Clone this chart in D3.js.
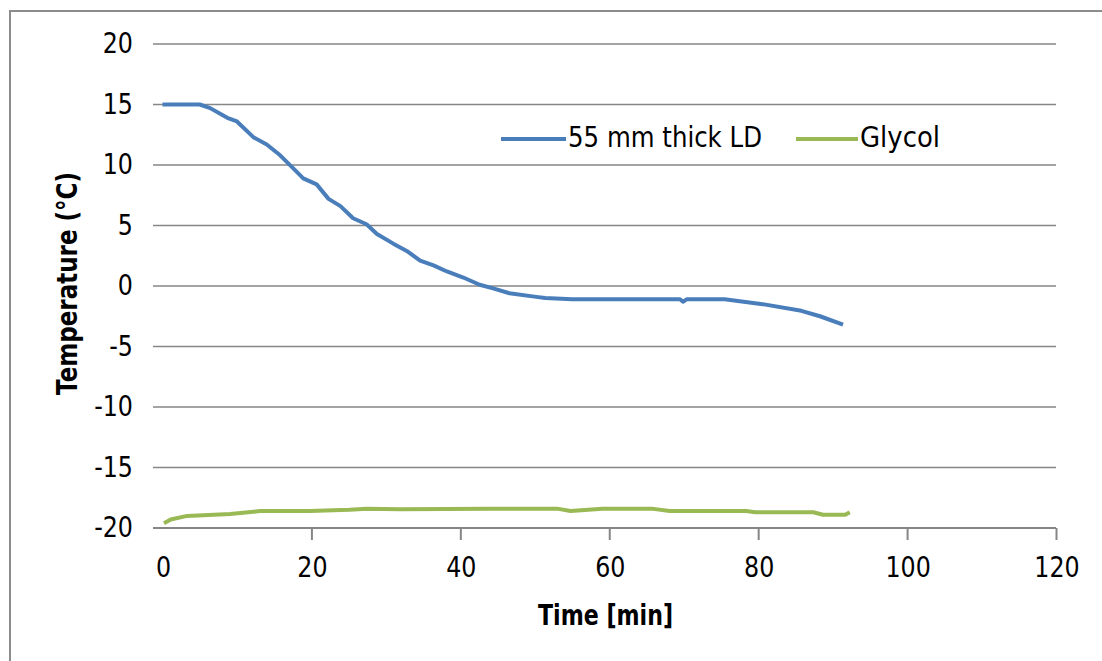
<!DOCTYPE html>
<html>
<head>
<meta charset="utf-8">
<script src="https://cdn.jsdelivr.net/npm/d3@7/dist/d3.min.js"></script>
<style>
  html, body { margin: 0; padding: 0; background: #ffffff; }
  svg { display: block; }
  text { font-family: "DejaVu Sans", sans-serif; fill: #000; }
</style>
</head>
<body>
<svg id="chart" width="1102" height="661"></svg>
<script>
// Core temperature of a 55 mm thick sample and the glycol bath over time
const ldTime = [0, 5, 6.4, 8.7, 10, 12.2, 14, 15.8, 17.6, 18.9, 20.7, 22.3, 23.9, 25.6, 27.4, 28.8, 31, 32.8, 34.6, 36.4, 38.2, 40.4, 42.6, 44.4, 46.6, 50.2, 51.4, 55, 62.7, 69.5, 69.9, 70.4, 75.5, 80.6, 85.8, 88.3, 91.4];
const ldTemp = [15, 15, 14.7, 13.9, 13.6, 12.3, 11.7, 10.8, 9.7, 8.9, 8.4, 7.2, 6.6, 5.6, 5.1, 4.3, 3.5, 2.9, 2.1, 1.7, 1.2, 0.7, 0.1, -0.2, -0.6, -0.9, -1.0, -1.1, -1.1, -1.1, -1.3, -1.1, -1.1, -1.5, -2.05, -2.5, -3.2];

const glycolTime = [0.2, 1.1, 3.3, 9.1, 13.1, 19.8, 25.1, 27.4, 31.9, 44, 53, 54.8, 59.1, 65.7, 68.1, 78.4, 79.6, 87.4, 88.7, 91.7, 92.3];
const glycolTemp = [-19.6, -19.3, -19.0, -18.85, -18.6, -18.6, -18.5, -18.4, -18.45, -18.4, -18.4, -18.6, -18.4, -18.4, -18.6, -18.6, -18.7, -18.7, -18.9, -18.9, -18.7];

const xTicks = [0, 20, 40, 60, 80, 100, 120];
const yTicks = [-20, -15, -10, -5, 0, 5, 10, 15, 20];

const seriesNames = ["55 mm thick LD", "Glycol"];
const seriesColors = ["#4a7ebb", "#98b954"];

const svg = d3.select("#chart");

// outer chart frame
svg.append("rect")
  .attr("x", 10).attr("y", 11)
  .attr("width", 1200).attr("height", 800)
  .attr("fill", "none").attr("stroke", "#8c8c8c").attr("stroke-width", 2);

const plotLeft = 153, plotRight = 1056;
const x = d3.scaleLinear().domain([0, 120]).range([162.5, 1056]);
const y = d3.scaleLinear().domain([-20, 20]).range([528, 44]);
const narrow = 0.82; // horizontal squeeze for the tick numerals

// horizontal gridlines
svg.append("g").selectAll("line")
  .data(yTicks.filter(d => d !== -20))
  .join("line")
  .attr("x1", plotLeft).attr("x2", plotRight)
  .attr("y1", d => y(d)).attr("y2", d => y(d))
  .attr("stroke", "#868686").attr("stroke-width", 1.4);

// y tick labels
svg.append("g").selectAll("text")
  .data(yTicks)
  .join("text")
  .attr("transform", d => `translate(133,${y(d) + 9}) scale(${narrow},1)`)
  .attr("text-anchor", "end")
  .attr("font-size", 29)
  .text(d => d);

// x axis
const xAxis = d3.axisBottom(x)
  .tickValues(xTicks.filter(d => d !== 0))
  .tickSize(12)
  .tickFormat("");
const gx = svg.append("g").attr("transform", `translate(0,${y(-20)})`).call(xAxis);
gx.select(".domain").remove();
gx.selectAll(".tick line").attr("stroke", "#868686").attr("stroke-width", 2);
svg.append("line")
  .attr("x1", plotLeft).attr("x2", plotRight)
  .attr("y1", y(-20)).attr("y2", y(-20))
  .attr("stroke", "#868686").attr("stroke-width", 2);

svg.append("g").selectAll("text")
  .data(xTicks)
  .join("text")
  .attr("transform", d => `translate(${x(d) + 1},577) scale(${narrow},1)`)
  .attr("text-anchor", "middle")
  .attr("font-size", 29)
  .text(d => d);

// axis titles
svg.append("text")
  .attr("x", 605.5).attr("y", 625)
  .attr("text-anchor", "middle")
  .attr("font-size", 28).attr("font-weight", "bold")
  .attr("textLength", 135).attr("lengthAdjust", "spacingAndGlyphs")
  .text("Time [min]");

svg.append("text")
  .attr("transform", "translate(77,283.5) rotate(-90)")
  .attr("text-anchor", "middle")
  .attr("font-size", 28).attr("font-weight", "bold")
  .attr("textLength", 223).attr("lengthAdjust", "spacingAndGlyphs")
  .text("Temperature (°C)");

// series lines
const line = d3.line().x(d => x(d[0])).y(d => y(d[1]));
const series = [
  d3.zip(ldTime, ldTemp),
  d3.zip(glycolTime, glycolTemp)
];
svg.append("g").selectAll("path")
  .data(series)
  .join("path")
  .attr("d", line)
  .attr("fill", "none")
  .attr("stroke", (d, i) => seriesColors[i])
  .attr("stroke-width", 4)
  .attr("stroke-linejoin", "round");

// legend
const legendItems = [
  { x1: 501, x2: 566, tx: 568, w: 194 },
  { x1: 796, x2: 858, tx: 860, w: 80 }
];
const lg = svg.append("g").selectAll("g")
  .data(seriesNames)
  .join("g");
lg.append("line")
  .attr("x1", (d, i) => legendItems[i].x1).attr("x2", (d, i) => legendItems[i].x2)
  .attr("y1", 139).attr("y2", 139)
  .attr("stroke", (d, i) => seriesColors[i]).attr("stroke-width", 4);
lg.append("text")
  .attr("x", (d, i) => legendItems[i].tx).attr("y", 147)
  .attr("font-size", 28)
  .attr("textLength", (d, i) => legendItems[i].w).attr("lengthAdjust", "spacingAndGlyphs")
  .text(d => d);
</script>
</body>
</html>
